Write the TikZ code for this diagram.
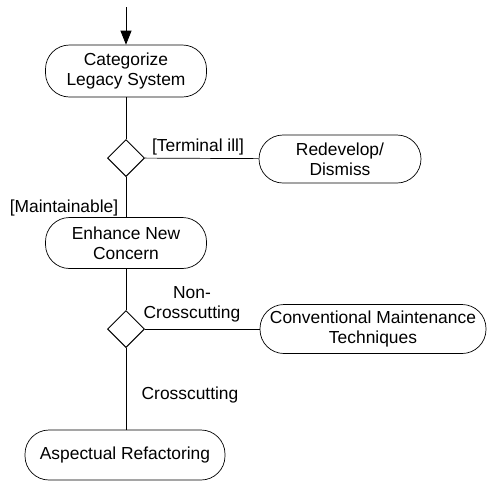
\documentclass[tikz,border=0pt]{standalone}
\usepackage{fontspec}
\setmainfont{Liberation Sans}
\usepackage{tikz}
\usetikzlibrary{shapes.geometric, arrows.meta}

\begin{document}
\begin{tikzpicture}[x=1pt, y=-1pt, line width=0.7pt,
    every node/.style={font=\fontsize{17.4}{20}\selectfont, align=center, inner sep=0pt},
    activity/.style={draw, rounded corners=24pt, minimum height=50pt},
    decision/.style={draw, diamond, aspect=1, minimum size=37pt, line width=1pt}]
            \useasboundingbox (0,0) rectangle (487,480);

            % Start
            \coordinate (start) at (126, 7);

            % Activities
            \node[activity, minimum width=161pt, minimum height=52pt] (cat) at (126, 71) {Categorize\\Legacy System};
            \node[activity, minimum width=162pt, minimum height=48pt] (redev) at (340, 159) {Redevelop/\\Dismiss};
            \node[activity, minimum width=161pt, minimum height=51pt] (enh) at (126, 243) {Enhance New\\Concern};
            \node[activity, minimum width=226pt, minimum height=49pt] (conv) at (373, 329) {Conventional Maintenance\\Techniques};
            \node[activity, minimum width=200pt] (asp) at (125, 455) {Aspectual Refactoring};

            % Decisions
            \node[decision] (d1) at (126, 158) {};
            \node[decision] (d2) at (126, 329) {};

            % Guards
            \node (gterm) at (198, 147) {[Terminal ill]};
            \node (gmain) at (64, 208) {[Maintainable]};
            \node (gnon) at (192, 304) {Non-\\Crosscutting};
            \node (gcross) at (190, 395) {Crosscutting};

            % Edges
            \draw[-{Triangle[length=14pt, width=11pt]}] (start) -- (cat);
            \draw[-] (cat) -- (d1);
            \draw[-] (d1) -- (redev);
            \draw[-] (d1) -- (enh);
            \draw[-] (enh) -- (d2);
            \draw[-] (d2) -- (conv);
            \draw[-] (d2) -- (asp.north -| d2);
        \end{tikzpicture}
\end{document}
